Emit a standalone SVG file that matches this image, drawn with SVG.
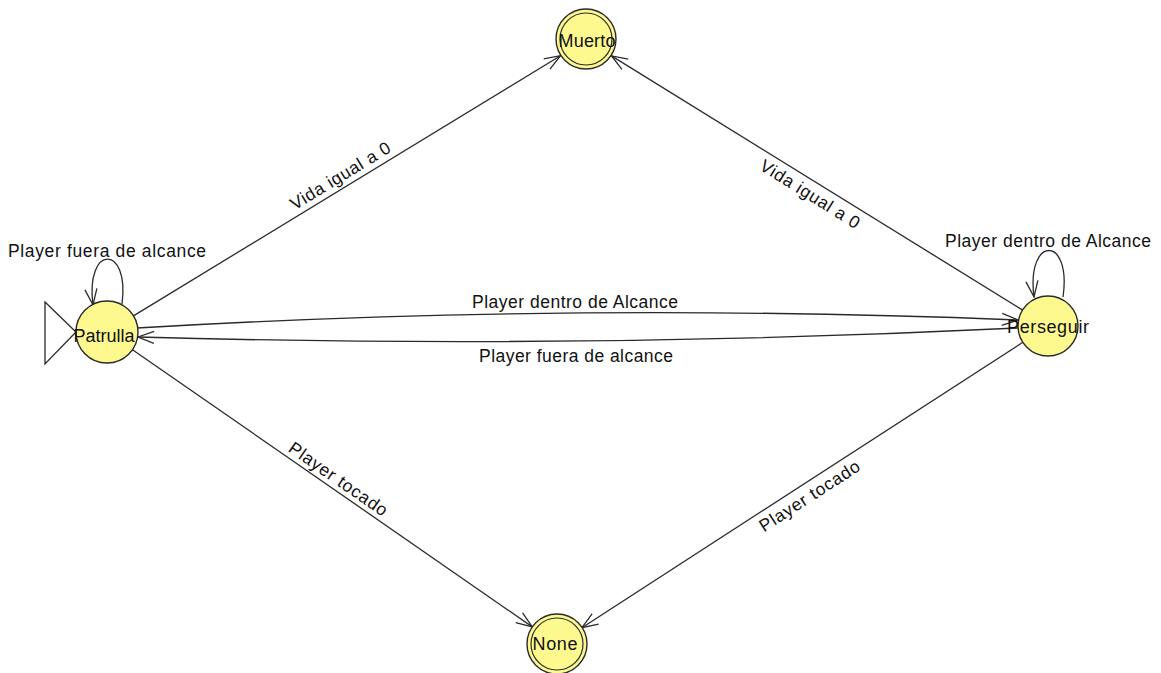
<svg xmlns="http://www.w3.org/2000/svg" width="1161" height="673" viewBox="0 0 1161 673">
  <style>
    .state { fill: #fdf98f; stroke: #2a2a2a; stroke-width: 1.4; }
    .ring { fill: none; stroke: #2a2a2a; stroke-width: 1.2; }
    .edge { fill: none; stroke: #2a2a2a; stroke-width: 1.3; }
    .name { font-family: "Liberation Sans", Arial, sans-serif; font-size: 18px; fill: #111; text-anchor: middle; }
    .label { font-family: "Liberation Sans", Arial, sans-serif; font-size: 17.5px; fill: #111; text-anchor: middle; }
  </style>
  <defs>
    <marker id="arrow" markerUnits="userSpaceOnUse" markerWidth="24" markerHeight="20" viewBox="-18 -10 24 20" refX="0" refY="0" orient="auto">
      <path d="M-16,-6 L0,0 L-16,6" fill="none" stroke="#2a2a2a" stroke-width="1.3"/>
    </marker>
  </defs>
  <rect width="1161" height="673" fill="#ffffff"/>

  <!-- transitions -->
  <g id="connectors">
    <!-- Patrulla -> Muerto -->
    <line class="edge" x1="132.6" y1="316.4" x2="560.5" y2="55.7" marker-end="url(#arrow)"/>
    <!-- Perseguir -> Muerto -->
    <line class="edge" x1="1022.6" y1="310.1" x2="611.5" y2="55.9" marker-end="url(#arrow)"/>
    <!-- Patrulla -> None -->
    <line class="edge" x1="132.5" y1="349.7" x2="532.3" y2="626.9" marker-end="url(#arrow)"/>
    <!-- Perseguir -> None -->
    <line class="edge" x1="1022.8" y1="342.3" x2="581.9" y2="627.7" marker-end="url(#arrow)"/>
    <!-- Patrulla -> Perseguir (upper arc) -->
    <path class="edge" d="M137,328 Q576.5,302 1018,320" marker-end="url(#arrow)"/>
    <!-- Perseguir -> Patrulla (lower arc) -->
    <path class="edge" d="M1018,328 Q577,349.5 138,337" marker-end="url(#arrow)"/>
    <!-- Patrulla self loop -->
    <path class="edge" d="M122,304 C130,244 85,244 93,305" marker-end="url(#arrow)"/>
    <!-- Perseguir self loop -->
    <path class="edge" d="M1063,297 C1072,235 1026,235 1034,297" marker-end="url(#arrow)"/>

    <!-- transition labels -->
    <text class="label" x="107" y="257" textLength="198" lengthAdjust="spacing">Player fuera de alcance</text>
    <text class="label" x="1048" y="247" textLength="206" lengthAdjust="spacing">Player dentro de Alcance</text>
    <text class="label" x="575" y="308" textLength="206" lengthAdjust="spacing">Player dentro de Alcance</text>
    <text class="label" x="576" y="362" textLength="194" lengthAdjust="spacing">Player fuera de alcance</text>
    <text class="label" transform="translate(346.5,186) rotate(-31.4)" x="0" y="-6" textLength="114" lengthAdjust="spacing">Vida igual a 0</text>
    <text class="label" transform="translate(817,183) rotate(32)" x="0" y="19" textLength="114" lengthAdjust="spacing">Vida igual a 0</text>
    <text class="label" transform="translate(332,488) rotate(34.7)" x="0" y="-5" textLength="116" lengthAdjust="spacing">Player tocado</text>
    <text class="label" transform="translate(802.5,485) rotate(-32.9)" x="0" y="19" textLength="116" lengthAdjust="spacing">Player tocado</text>
  </g>

  <!-- initial state: Patrulla -->
  <g id="state-patrulla">
    <polygon points="45,302 76,332 45,364" fill="#ffffff" stroke="#2a2a2a" stroke-width="1.3"/>
    <circle class="state" cx="107" cy="332" r="31"/>
    <text class="name" x="104" y="342" textLength="61" lengthAdjust="spacing">Patrulla</text>
  </g>

  <!-- final state: Muerto -->
  <g id="state-muerto">
    <circle class="state" cx="586" cy="39" r="30"/>
    <circle class="ring" cx="586" cy="39" r="26"/>
    <text class="name" x="587" y="47" textLength="57" lengthAdjust="spacing">Muerto</text>
  </g>

  <!-- Perseguir -->
  <g id="state-perseguir">
    <circle class="state" cx="1048" cy="326" r="30"/>
    <text class="name" x="1048" y="333" textLength="82" lengthAdjust="spacing">Perseguir</text>
  </g>

  <!-- final state: None -->
  <g id="state-none">
    <circle class="state" cx="557" cy="644" r="30"/>
    <circle class="ring" cx="557" cy="644" r="26"/>
    <text class="name" x="555" y="650" textLength="45" lengthAdjust="spacing">None</text>
  </g>
</svg>
